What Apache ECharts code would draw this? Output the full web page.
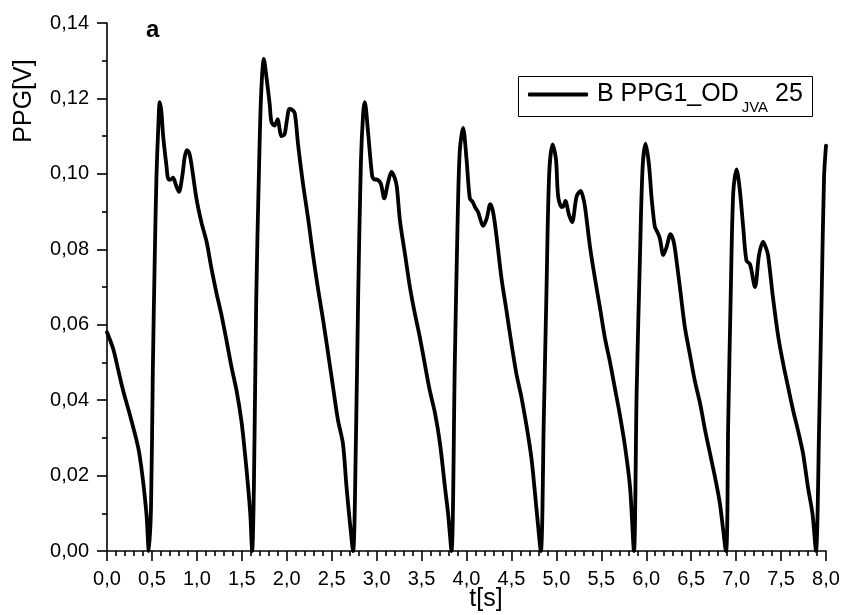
<!DOCTYPE html>
<html>
<head>
<meta charset="utf-8">
<script src="https://cdn.jsdelivr.net/npm/echarts@6/dist/echarts.min.js"></script>
<style>
  html, body { margin: 0; padding: 0; background: #fff; }
  #chart { width: 844px; height: 615px; }
</style>
</head>
<body>
<div id="chart"></div>
<script>
// PPG recording, channel B (PPG1_OD, JVA 25), time in seconds, signal in volts
const timeS = [
  0.00, 0.07, 0.12, 0.18, 0.25, 0.33, 0.36, 0.40, 0.44, 0.465,
  0.49, 0.51, 0.53, 0.55, 0.57, 0.587, 0.605, 0.625, 0.66, 0.685,
  0.71, 0.735, 0.765, 0.80, 0.84, 0.865, 0.89, 0.915, 0.94, 0.995,
  1.05, 1.11, 1.16, 1.22, 1.27, 1.33, 1.385, 1.44, 1.495, 1.535,
  1.57, 1.595, 1.615, 1.635, 1.66, 1.69, 1.715, 1.745, 1.775, 1.81,
  1.83, 1.865, 1.88, 1.90, 1.92, 1.94, 1.975, 2.00, 2.03, 2.06,
  2.09, 2.125, 2.18, 2.24, 2.29, 2.35, 2.405, 2.46, 2.515, 2.57,
  2.625, 2.665, 2.70, 2.738, 2.77, 2.795, 2.825, 2.85, 2.868, 2.905,
  2.95, 2.975, 3.00, 3.045, 3.085, 3.125, 3.165, 3.20, 3.225, 3.26,
  3.315, 3.37, 3.425, 3.48, 3.535, 3.59, 3.65, 3.705, 3.76, 3.795,
  3.833, 3.87, 3.90, 3.925, 3.962, 4.00, 4.037, 4.07, 4.095, 4.13,
  4.185, 4.225, 4.265, 4.29, 4.315, 4.35, 4.39, 4.445, 4.50, 4.555,
  4.61, 4.67, 4.725, 4.78, 4.827, 4.86, 4.89, 4.92, 4.958, 4.995,
  5.02, 5.058, 5.08, 5.10, 5.14, 5.175, 5.225, 5.27, 5.30, 5.32,
  5.375, 5.43, 5.485, 5.54, 5.595, 5.65, 5.705, 5.765, 5.82, 5.863,
  5.893, 5.93, 5.96, 5.993, 6.03, 6.06, 6.095, 6.115, 6.15, 6.19,
  6.225, 6.27, 6.30, 6.32, 6.375, 6.43, 6.485, 6.54, 6.60, 6.655,
  6.71, 6.765, 6.82, 6.887, 6.912, 6.94, 6.968, 7.005, 7.04, 7.08,
  7.115, 7.155, 7.21, 7.255, 7.30, 7.33, 7.355, 7.41, 7.47, 7.525,
  7.58, 7.635, 7.69, 7.745, 7.80, 7.85, 7.888, 7.925, 7.952, 7.978,
  8.00
];
const ppgV = [
  0.0580, 0.0535, 0.0485, 0.0425, 0.0365, 0.0292, 0.0258, 0.0188, 0.0095, 0.0000,
  0.0120, 0.0480, 0.0760, 0.0990, 0.1120, 0.1190, 0.1165, 0.1100, 0.1025, 0.0985,
  0.0985, 0.0990, 0.0972, 0.0952, 0.0998, 0.1045, 0.1063, 0.1055, 0.1025, 0.0935,
  0.0872, 0.0818, 0.0752, 0.0682, 0.0630, 0.0558, 0.0488, 0.0427, 0.0346, 0.0259,
  0.0170, 0.0095, 0.0000, 0.0180, 0.0660, 0.1000, 0.1210, 0.1305, 0.1255, 0.1185,
  0.1137, 0.1128, 0.1135, 0.1145, 0.1120, 0.1100, 0.1105, 0.1140, 0.1172, 0.1170,
  0.1160, 0.1080, 0.0975, 0.0878, 0.0789, 0.0692, 0.0612, 0.0524, 0.0435, 0.0347,
  0.0285, 0.0170, 0.0082, 0.0000, 0.0300, 0.0680, 0.1030, 0.1160, 0.1190, 0.1110,
  0.0995, 0.0985, 0.0985, 0.0975, 0.0935, 0.0975, 0.1005, 0.0990, 0.0965, 0.0875,
  0.0788, 0.0700, 0.0630, 0.0568, 0.0497, 0.0427, 0.0365, 0.0285, 0.0170, 0.0099,
  0.0000, 0.0500, 0.0860, 0.1060, 0.1122, 0.1040, 0.0935, 0.0925, 0.0912, 0.0898,
  0.0862, 0.0882, 0.0920, 0.0905, 0.0870, 0.0802, 0.0722, 0.0637, 0.0550, 0.0470,
  0.0409, 0.0329, 0.0241, 0.0108, 0.0000, 0.0350, 0.0690, 0.1000, 0.1078, 0.1040,
  0.0940, 0.0912, 0.0915, 0.0928, 0.0892, 0.0872, 0.0940, 0.0955, 0.0935, 0.0910,
  0.0805, 0.0722, 0.0645, 0.0565, 0.0503, 0.0433, 0.0363, 0.0275, 0.0168, 0.0000,
  0.0420, 0.0780, 0.1020, 0.1080, 0.1025, 0.0935, 0.0860, 0.0850, 0.0830, 0.0785,
  0.0805, 0.0840, 0.0825, 0.0800, 0.0698, 0.0593, 0.0522, 0.0452, 0.0390, 0.0320,
  0.0258, 0.0196, 0.0125, 0.0000, 0.0340, 0.0680, 0.0950, 0.1012, 0.0960, 0.0855,
  0.0770, 0.0760, 0.0700, 0.0785, 0.0820, 0.0805, 0.0785, 0.0672, 0.0566, 0.0495,
  0.0433, 0.0372, 0.0318, 0.0258, 0.0168, 0.0098, 0.0000, 0.0350, 0.0680, 0.0990,
  0.1075
];

const seriesName = 'B PPG1_OD JVA 25';
const xTickStep = 0.5;
const yTickStep = 0.02;

const FONT = 'Liberation Sans, Arial, Helvetica, sans-serif';
const commaFmt = (digits) => (v) => v.toFixed(digits).replace('.', ',');

const chart = echarts.init(document.getElementById('chart'), null, { renderer: 'canvas' });

chart.setOption({
  animation: false,
  backgroundColor: '#ffffff',
  grid: { left: 107, right: 18, top: 23, bottom: 64, containLabel: false },
  xAxis: {
    type: 'value',
    min: 0,
    max: 8,
    interval: xTickStep,
    axisLine: { show: true, onZero: false, lineStyle: { color: '#000', width: 1.6 } },
    axisTick: { show: true, inside: false, length: 10, lineStyle: { color: '#000', width: 1.6 } },
    minorTick: { show: true, splitNumber: 5, length: 5, lineStyle: { color: '#000', width: 1.6 } },
    splitLine: { show: false },
    minorSplitLine: { show: false },
    axisLabel: {
      margin: 18,
      color: '#000',
      fontFamily: FONT,
      fontSize: 20,
      formatter: commaFmt(1)
    }
  },
  yAxis: {
    type: 'value',
    min: 0,
    max: 0.14,
    interval: yTickStep,
    axisLine: { show: true, onZero: false, lineStyle: { color: '#000', width: 1.6 } },
    axisTick: { show: true, inside: false, length: 10, lineStyle: { color: '#000', width: 1.6 } },
    minorTick: { show: true, splitNumber: 2, length: 5, lineStyle: { color: '#000', width: 1.6 } },
    splitLine: { show: false },
    minorSplitLine: { show: false },
    axisLabel: {
      margin: 18,
      color: '#000',
      fontFamily: FONT,
      fontSize: 20,
      formatter: commaFmt(2)
    }
  },
  legend: {
    show: true,
    left: 528,
    top: 82,
    padding: 0,
    icon: 'roundRect',
    itemWidth: 60,
    itemHeight: 4,
    itemStyle: { color: '#000' },
    data: [seriesName],
    formatter: () => '{m|B PPG1_OD}{s|JVA}{n| 25}',
    textStyle: {
      color: '#000',
      fontFamily: FONT,
      rich: {
        m: { fontSize: 25, lineHeight: 42, fontFamily: FONT, color: '#000', padding: [0, 0, 0, 4] },
        s: { fontSize: 15, lineHeight: 15, fontFamily: FONT, color: '#000', verticalAlign: 'bottom', padding: [0, 0, 0, 3] },
        n: { fontSize: 25, lineHeight: 42, fontFamily: FONT, color: '#000' }
      }
    }
  },
  graphic: [
    {
      type: 'rect',
      z: -1,
      shape: { x: 518.5, y: 76.5, width: 294, height: 40 },
      style: { fill: '#fff', stroke: '#000', lineWidth: 1 }
    },
    {
      type: 'text',
      x: 146,
      y: 30,
      style: {
        text: 'a',
        fontFamily: FONT,
        fontSize: 24,
        fontWeight: 'bold',
        fill: '#000',
        align: 'left',
        verticalAlign: 'middle'
      }
    },
    {
      type: 'text',
      x: 24.5,
      y: 101,
      rotation: Math.PI / 2,
      style: {
        text: 'PPG[V]',
        fontFamily: FONT,
        fontSize: 25,
        fill: '#000',
        align: 'center',
        verticalAlign: 'middle'
      }
    },
    {
      type: 'text',
      x: 486,
      y: 599,
      style: {
        text: 't[s]',
        fontFamily: FONT,
        fontSize: 25,
        fill: '#000',
        align: 'center',
        verticalAlign: 'middle'
      }
    }
  ],
  series: [
    {
      name: seriesName,
      type: 'line',
      data: timeS.map((t, i) => [t, ppgV[i]]),
      showSymbol: false,
      symbol: 'none',
      smooth: 0.3,
      clip: true,
      lineStyle: { color: '#000', width: 3.8, cap: 'round', join: 'round' },
      itemStyle: { color: '#000' }
    }
  ]
});
</script>
</body>
</html>
